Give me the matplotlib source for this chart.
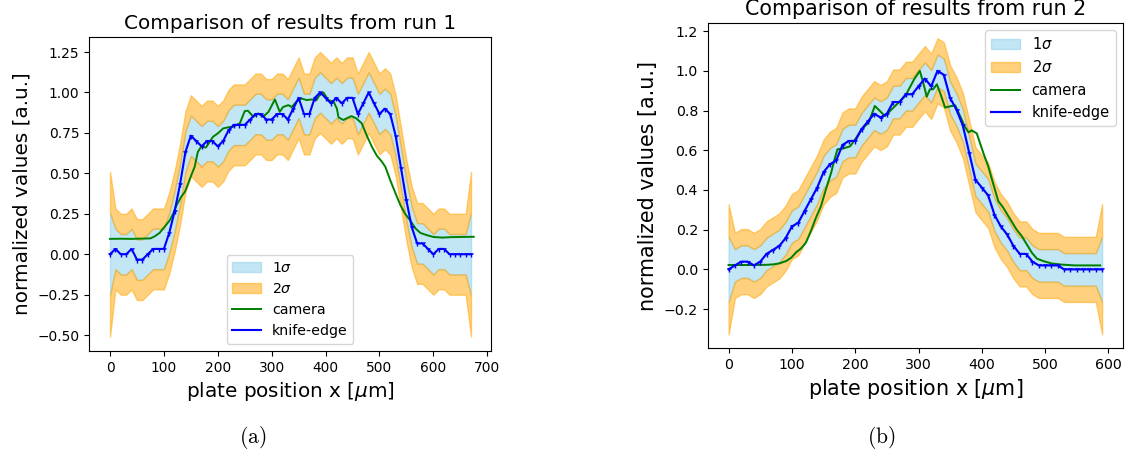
import numpy as np
import matplotlib.pyplot as plt

# ---------------- run 1 ----------------
x1 = np.arange(0, 680, 10)
knife1 = [0.0, 0.033, 0.0, 0.0, 0.033, -0.033, -0.033, 0.0, 0.033, 0.033,
          0.033, 0.133, 0.267, 0.433, 0.633, 0.733, 0.7, 0.667, 0.7, 0.7,
          0.667, 0.7, 0.767, 0.8, 0.8, 0.8, 0.833, 0.867, 0.867, 0.833,
          0.833, 0.867, 0.867, 0.833, 0.9, 0.967, 0.867, 0.867, 0.967, 1.0,
          0.967, 0.933, 0.967, 0.933, 0.967, 0.967, 0.867, 0.933, 1.0, 0.933,
          0.867, 0.9, 0.867, 0.733, 0.533, 0.333, 0.167, 0.067, 0.067, 0.033,
          0.0, 0.033, 0.033, 0.0, 0.0, 0.0, 0.0, 0.0]
sigma1 = [0.255] + [0.125] * 66 + [0.255]

cam1_x = [0, 20, 40, 60, 75, 83, 92, 101, 111, 117, 123, 132, 139, 145, 151,
          157, 163, 169, 178, 185, 191, 200, 210, 220, 230, 241, 250, 256, 266,
          275, 284, 294, 306, 315, 321, 331, 337, 346, 355, 365, 374, 383, 390,
          396, 405, 415, 421, 424, 433, 439, 448, 457, 467, 477, 486, 495, 505,
          511, 520, 530, 539, 548, 557, 567, 576, 588, 600, 616, 634, 653, 675]
cam1_y = [0.095, 0.096, 0.095, 0.097, 0.098, 0.111, 0.132, 0.169, 0.21, 0.25,
          0.30, 0.355, 0.386, 0.437, 0.49, 0.54, 0.633, 0.664, 0.66, 0.695,
          0.726, 0.747, 0.778, 0.785, 0.79, 0.81, 0.885, 0.887, 0.85, 0.87,
          0.85, 0.88, 0.957, 0.88, 0.91, 0.922, 0.91, 0.943, 0.963, 0.953,
          0.957, 0.953, 0.99, 1.0, 0.953, 0.943, 0.90, 0.846, 0.83, 0.84,
          0.854, 0.84, 0.81, 0.73, 0.664, 0.61, 0.57, 0.54, 0.458, 0.375,
          0.303, 0.248, 0.21, 0.159, 0.132, 0.118, 0.107, 0.103, 0.106, 0.107,
          0.108]

# ---------------- run 2 ----------------
x2 = np.arange(0, 600, 10)
knife2 = [0.0, 0.02, 0.039, 0.039, 0.02, 0.039, 0.078, 0.098, 0.118, 0.157,
          0.216, 0.235, 0.294, 0.353, 0.412, 0.49, 0.529, 0.549, 0.627, 0.647,
          0.647, 0.706, 0.745, 0.784, 0.765, 0.784, 0.843, 0.843, 0.882, 0.882,
          0.922, 0.961, 0.922, 1.0, 0.98, 0.863, 0.804, 0.725, 0.588, 0.451,
          0.412, 0.373, 0.275, 0.216, 0.176, 0.118, 0.078, 0.078, 0.039, 0.02,
          0.02, 0.02, 0.02, 0.0, 0.0, 0.0, 0.0, 0.0, 0.0, 0.0]
sigma2 = [0.164] + [0.082] * 58 + [0.164]

cam2_x = [0, 30, 60, 70, 80, 91, 99, 107, 114, 122, 130, 138, 146, 154, 162,
          167, 172, 180, 192, 200, 210, 221, 231, 239, 247, 255, 263, 271, 279,
          286, 293, 302, 306, 313, 318, 323, 329, 334, 342, 352, 358, 366, 373,
          379, 384, 392, 402, 410, 416, 426, 434, 445, 455, 463, 471, 479, 487,
          497, 510, 526, 547, 587]
cam2_y = [0.022, 0.022, 0.023, 0.025, 0.03, 0.042, 0.059, 0.087, 0.104, 0.134,
          0.193, 0.26, 0.319, 0.406, 0.487, 0.55, 0.605, 0.608, 0.62, 0.655,
          0.705, 0.739, 0.823, 0.798, 0.772, 0.798, 0.823, 0.848, 0.873, 0.915,
          0.957, 1.0, 0.957, 0.87, 0.907, 0.907, 0.932, 0.89, 0.815, 0.823,
          0.826, 0.77, 0.72, 0.69, 0.70, 0.685, 0.59, 0.52, 0.453, 0.344,
          0.31, 0.252, 0.2, 0.168, 0.126, 0.084, 0.054, 0.042, 0.03, 0.024,
          0.02, 0.02]


def draw_panel(ax, x, knife, sigma, cam_x, cam_y, title, s, legend_loc):
    k = np.array(knife)
    sg = np.array(sigma)
    b1 = ax.fill_between(x, k - sg, k + sg, color='skyblue', alpha=0.5,
                         label=r'1$\sigma$')
    b2 = ax.fill_between(x, k + sg, k + 2 * sg, color='orange', alpha=0.5,
                         label=r'2$\sigma$')
    ax.fill_between(x, k - 2 * sg, k - sg, color='orange', alpha=0.5)
    l1, = ax.plot(cam_x, cam_y, color='green', lw=1.4 * s, label='camera')
    l2, = ax.plot(x, knife, color='blue', lw=1.5 * s, label='knife-edge')
    # small tick markers at each knife-edge step
    ax.plot(x, knife, ls='none', color='blue', marker='1', ms=4 * s,
            mew=1.0 * s)
    ax.set_title(title, fontsize=14.4 * s)
    ax.set_xlabel(r'plate position x [$\mu$m]', fontsize=14.4 * s)
    ax.set_ylabel('normalized values [a.u.]', fontsize=14.4 * s)
    ax.tick_params(labelsize=9.9 * s)
    ax.legend(handles=[b1, b2, l1, l2], loc=legend_loc, fontsize=10.2 * s)


fig = plt.figure(figsize=(11.33, 4.61), dpi=100)
W, H = 1133, 461

ax1 = fig.add_axes([89 / W, 1 - 351 / H, 402 / W, 314 / H])
draw_panel(ax1, x1, knife1, sigma1, cam1_x, cam1_y,
           'Comparison of results from run 1', 1.0, 'lower center')
ax1.set_xlim(-39, 707)
ax1.set_ylim(-0.598, 1.343)
ax1.set_xticks(range(0, 800, 100))
ax1.set_yticks(np.arange(-0.5, 1.26, 0.25))

ax2 = fig.add_axes([707.7 / W, 1 - 348 / H, 415.3 / W, 325 / H])
draw_panel(ax2, x2, knife2, sigma2, cam2_x, cam2_y,
           'Comparison of results from run 2', 1.03, 'upper right')
ax2.set_xlim(-33, 623)
ax2.set_ylim(-0.396, 1.241)
ax2.set_xticks(range(0, 700, 100))
ax2.set_yticks(np.arange(-0.2, 1.21, 0.2))

# captions under the two panels
fig.text(253 / W, 1 - 437 / H, r'$\mathrm{(a)}$', ha='center', va='center',
         fontsize=15.5, math_fontfamily='cm')
fig.text(881 / W, 1 - 437 / H, r'$\mathrm{(b)}$', ha='center', va='center',
         fontsize=15.5, math_fontfamily='cm')

fig.savefig('out.png', dpi=100)
